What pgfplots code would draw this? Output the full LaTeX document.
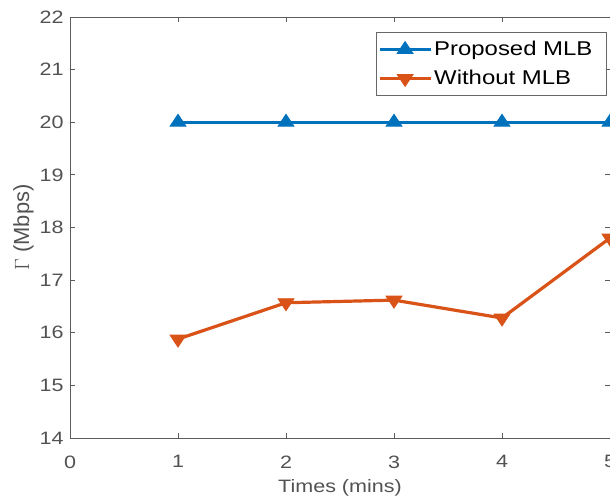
\documentclass[border=0pt]{standalone}
\usepackage{pgfplots}
\pgfplotsset{compat=1.18}
\usepackage{fontspec}
\setmainfont{Liberation Sans}[FakeStretch=1.2]
\newfontfamily\plainsans{Liberation Sans}
\usetikzlibrary{calc}
\definecolor{mblue}{rgb}{0,0.447,0.741}
\definecolor{morange}{rgb}{0.85,0.325,0.098}
\definecolor{axgray}{rgb}{0.15,0.15,0.15}
\begin{document}
\begin{tikzpicture}
\begin{axis}[
  name=ax,
  scale only axis,
  width=540bp, height=421bp,
  xmin=0, xmax=5, ymin=14, ymax=22,
  xtick={0,1,2,3,4,5}, ytick={14,15,...,22},
  tick align=inside,
  major tick length=5bp,
  axis line style={axgray!75!white, line width=0.8bp},
  tick style={axgray!75!white, line width=0.8bp},
  every tick label/.append style={text=axgray!80!white, font=\fontsize{18}{20}\selectfont},
  /pgf/number format/assume math mode=true,
  xticklabel style={yshift=-14bp},
  yticklabel style={xshift=-3bp},
  xlabel={Times (mins)},
  ylabel={$\Gamma$ (Mbps)},
  xlabel style={text=axgray!80!white, font=\fontsize{18}{20}\selectfont, yshift=-4bp},
  ylabel style={text=axgray!80!white, font=\plainsans\fontsize{22}{24}\selectfont, yshift=-1bp},
  legend style={at={(rel axis cs:0.994,0.964)}, anchor=north east,
    draw=axgray!70!white, line width=0.8bp,
    font=\fontsize{20}{22}\selectfont, text=black,
    inner xsep=2bp, inner ysep=7bp, row sep=9bp,
    cells={anchor=west}},
  legend image code/.code={\draw[mark repeat=2,mark phase=2] plot coordinates {(0cm,0cm) (0.9cm,0cm) (1.8cm,0cm)};},
]
\addplot[mblue, line width=3.2bp, mark=triangle*, mark size=8bp, mark options={xscale=1.15, fill=mblue, draw=mblue, line width=0.8bp}]
  coordinates {(1,20) (2,20) (3,20) (4,20) (5,20)};
\addlegendentry{Proposed MLB\hspace*{10bp}}
\addplot[morange, line width=3.2bp, mark=triangle*, mark size=8bp, mark options={rotate=180, xscale=1.15, fill=morange, draw=morange, line width=0.8bp}]
  coordinates {(1,15.88) (2,16.57) (3,16.62) (4,16.28) (5,17.8)};
\addlegendentry{Without MLB}
\end{axis}
\pgfresetboundingbox
\path[use as bounding box] ($(ax.south west)+(-70bp,-62bp)$) rectangle ($(ax.north east)+(0bp,17bp)$);
\end{tikzpicture}
\end{document}
